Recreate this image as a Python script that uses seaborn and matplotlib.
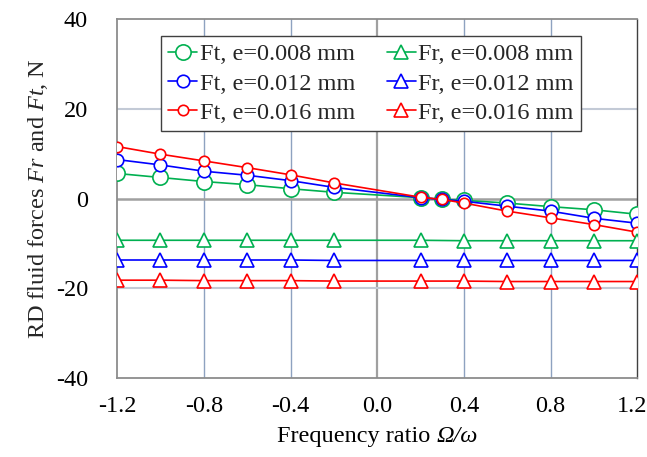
import numpy as np
import pandas as pd
import matplotlib
matplotlib.use("Agg")
import matplotlib.pyplot as plt
import matplotlib.transforms as mtransforms
from matplotlib.offsetbox import TextArea, HPacker, AnchoredOffsetbox
import seaborn as sns

# Frequency ratio points
x_ft = [-1.2, -1.0, -0.8, -0.6, -0.4, -0.2, 0.2, 0.3, 0.4, 0.6, 0.8, 1.0, 1.2]
x_fr = [-1.2, -1.0, -0.8, -0.6, -0.4, -0.2, 0.2, 0.4, 0.6, 0.8, 1.0, 1.2]

# Tangential force Ft
ft_008 = [5.6, 4.7, 3.8, 3.1, 2.2, 1.4, 0.2, -0.2, -0.4, -1.0, -1.8, -2.5, -3.5]
ft_012 = [8.7, 7.5, 6.1, 5.2, 4.0, 2.5, 0.2, -0.2, -0.6, -1.7, -2.8, -4.4, -5.5]
ft_016 = [11.6, 9.9, 8.4, 6.9, 5.3, 3.5, 0.3, -0.2, -1.0, -2.8, -4.3, -5.8, -7.5]

# Radial force Fr
fr_008 = [-9.3, -9.3, -9.3, -9.3, -9.3, -9.3, -9.3, -9.4, -9.4, -9.4, -9.4, -9.4]
fr_012 = [-13.7, -13.7, -13.7, -13.7, -13.7, -13.8, -13.8, -13.8, -13.8, -13.8, -13.8, -13.8]
fr_016 = [-18.2, -18.2, -18.3, -18.3, -18.3, -18.4, -18.4, -18.4, -18.5, -18.5, -18.5, -18.5]

labels = ["e=0.008 mm", "e=0.012 mm", "e=0.016 mm"]
colors = ["#00B050", "#0000FF", "#FF0000"]
circle_sizes = [11, 9, 7.5]

sns.set_theme(style="white")
plt.rcParams["font.family"] = ["Liberation Serif", "DejaVu Serif"]
plt.rcParams["mathtext.fontset"] = "custom"
plt.rcParams["mathtext.rm"] = "Liberation Serif"
plt.rcParams["mathtext.it"] = "Liberation Serif:italic"
plt.rcParams["axes.unicode_minus"] = False

FS = 17.5

fig, ax = plt.subplots(figsize=(6.47, 4.57), dpi=100)
fig.subplots_adjust(left=0.181, right=0.985, top=0.958, bottom=0.173)

# grid lines drawn first
for gx in [-0.8, -0.4, 0.4, 0.8]:
    ax.axvline(gx, color="#8EA2C0", lw=1.0, zorder=0)
ax.axvline(0.0, color="#A0A0A0", lw=1.6, zorder=0)
for gy in [-20, 20]:
    ax.axhline(gy, color="#C3CAD6", lw=1.5, zorder=0)
ax.axhline(0, color="#A0A0A0", lw=1.8, zorder=0)

ft_series = [ft_008, ft_012, ft_016]
fr_series = [fr_008, fr_012, fr_016]

for vals, lab, c, ms in zip(ft_series, labels, colors, circle_sizes):
    sns.lineplot(x=x_ft, y=vals, ax=ax, color=c, lw=1.2, marker="o",
                 markersize=ms, markerfacecolor="white", markeredgecolor=c,
                 markeredgewidth=1.2, label="Ft, " + lab, zorder=3)

for vals, lab, c in zip(fr_series, labels, colors):
    sns.lineplot(x=x_fr, y=vals, ax=ax, color=c, lw=1.2, marker="^",
                 markersize=10, markerfacecolor="white", markeredgecolor=c,
                 markeredgewidth=1.2, label="Fr, " + lab, zorder=3)

ax.set_xlim(-1.2, 1.2)
ax.set_ylim(-40, 40)
xt = np.round(np.arange(-1.2, 1.21, 0.4), 1)
ax.set_xticks(xt)
ax.set_xticklabels([f"{v:.1f}" for v in xt])
ax.set_yticks([-40, -20, 0, 20, 40])
ax.tick_params(axis="both", length=0, labelsize=FS, colors="black")
ax.tick_params(axis="y", pad=21)
ax.tick_params(axis="x", pad=13)

# keep the last x label inside the figure
last = ax.get_xticklabels()[-1]
last.set_transform(last.get_transform() + mtransforms.ScaledTranslation(-5 / 100, 0, fig.dpi_scale_trans))

for side in ["top", "bottom", "left"]:
    ax.spines[side].set_color("#8C8C8C")
    ax.spines[side].set_linewidth(1.3)
ax.spines["right"].set_color("#404040")
ax.spines["right"].set_linewidth(1.0)

# x label: roman text + italic Omega/omega
xlab = HPacker(children=[TextArea("Frequency ratio ", textprops=dict(fontsize=FS, color="black")),
                         TextArea("Ω/ω", textprops=dict(fontsize=FS, color="black", style="italic"))],
               align="baseline", pad=0, sep=0)
ax.add_artist(AnchoredOffsetbox(loc="upper center", child=xlab, pad=0, borderpad=0, frameon=False,
                                bbox_to_anchor=(0.5, -0.135), bbox_transform=ax.transAxes))

ax.set_ylabel(r"RD fluid forces $\mathit{Fr}$ and $\mathit{Ft}$, N", fontsize=FS, labelpad=4)

leg = ax.legend(ncol=2, loc="upper center", bbox_to_anchor=(0.488, 0.953),
                fontsize=FS, frameon=True, fancybox=False, framealpha=1,
                edgecolor="#404040", handlelength=1.2, handletextpad=0.1,
                columnspacing=1.3, labelspacing=0.3, borderpad=0.3,
                borderaxespad=0)
leg.get_frame().set_linewidth(1.0)

fig.savefig("out.png", dpi=100)
